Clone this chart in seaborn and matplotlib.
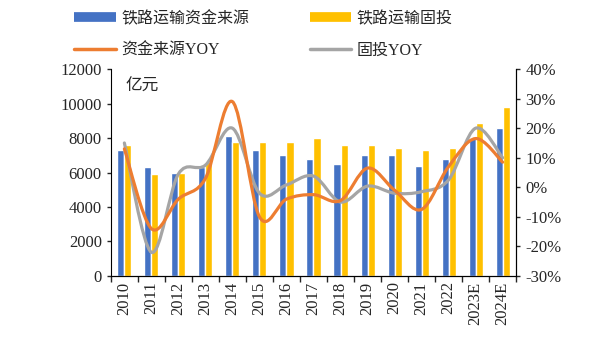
import numpy as np
import pandas as pd
import seaborn as sns
import matplotlib.pyplot as plt
from matplotlib.path import Path
from matplotlib.patches import PathPatch
from matplotlib.lines import Line2D
from matplotlib.ticker import PercentFormatter, MultipleLocator

years = ["2010", "2011", "2012", "2013", "2014", "2015", "2016", "2017",
         "2018", "2019", "2020", "2021", "2022", "2023E", "2024E"]
funding = [7300, 6300, 6000, 6300, 8100, 7300, 7000, 6800, 6500, 7000, 7000, 6400, 6800, 8000, 8600]
invest = [7600, 5900, 6000, 6600, 7800, 7800, 7800, 8000, 7600, 7600, 7400, 7300, 7400, 8900, 9800]
funding_yoy = [13, -14, -4, 3, 29, -10, -4, -2.5, -4.5, 6.5, -1, -7.5, 7, 16.5, 8.5]
invest_yoy = [15, -22, 4.5, 7.5, 20, -2, 0.8, 3.8, -5, 0.4, -2, -1.5, 2.5, 20, 10]

names = ["铁路运输资金来源", "铁路运输固投", "资金来源YOY", "固投YOY"]
colors = ["#4472C4", "#FFC000", "#ED7D31", "#A5A5A5"]

sns.set_style("ticks")
plt.rcParams["font.family"] = ["Liberation Serif", "Noto Sans CJK SC"]
plt.rcParams["axes.unicode_minus"] = False

df = pd.DataFrame({
    "year": years * 2,
    "value": funding + invest,
    "series": [names[0]] * len(years) + [names[1]] * len(years),
})

fig = plt.figure(figsize=(5.96, 3.51), dpi=100)
ax = fig.add_axes([0.186, 0.214, 0.680, 0.589])
sns.barplot(data=df, x="year", y="value", hue="series", palette=colors[:2],
            width=0.52, saturation=1, ax=ax, legend=False)
ax.set_xlim(-0.5, len(years) - 0.5)
ax.set_ylim(0, 12000)
ax.yaxis.set_major_locator(MultipleLocator(2000))
ax.set_xlabel("")
ax.set_ylabel("")
ax.tick_params(axis="x", which="major", length=0, labelsize=12, rotation=90, pad=4)
ax.set_xticks(np.arange(-0.5, len(years)), minor=True)
ax.tick_params(axis="x", which="minor", length=4, width=1)
ax.tick_params(axis="y", labelsize=12, length=3, width=1)
for s in ax.spines.values():
    s.set_color("black")
ax.spines["top"].set_visible(False)
ax.text(0.035, 0.955, "亿元", transform=ax.transAxes, fontsize=12, va="top", ha="left")


# smooth curve through points (Excel style), drawn as a bezier path
def smooth_path(ys):
    xs = np.arange(len(ys), dtype=float)
    pts = np.column_stack([xs, np.array(ys) / 100.0])
    ext = np.vstack([pts[0], pts, pts[-1]])
    verts = [pts[0]]
    codes = [Path.MOVETO]
    for i in range(len(pts) - 1):
        p0, p1, p2, p3 = ext[i], ext[i + 1], ext[i + 2], ext[i + 3]
        verts += [p1 + (p2 - p0) / 6, p2 - (p3 - p1) / 6, p2]
        codes += [Path.CURVE4] * 3
    return Path(verts, codes)


ax2 = ax.twinx()
sns.lineplot(x=np.arange(len(years)), y=np.array(invest_yoy) / 100, ax=ax2, alpha=0)
for ys, c in [(invest_yoy, colors[3]), (funding_yoy, colors[2])]:
    ax2.add_patch(PathPatch(smooth_path(ys), facecolor="none", edgecolor=c,
                            lw=2.3, capstyle="round", joinstyle="round"))
ax2.set_ylim(-0.30, 0.40)
ax2.yaxis.set_major_locator(MultipleLocator(0.1))
ax2.yaxis.set_major_formatter(PercentFormatter(1.0, decimals=0))
ax2.tick_params(axis="y", labelsize=12, length=3, width=1)
ax2.set_ylabel("")
for s in ax2.spines.values():
    s.set_color("black")
ax2.spines["top"].set_visible(False)
ax2.spines["left"].set_visible(False)
ax2.set_xlim(-0.5, len(years) - 0.5)

handles = [
    Line2D([], [], color=colors[0], lw=7, solid_capstyle="butt"),
    Line2D([], [], color=colors[2], lw=2.5),
    Line2D([], [], color=colors[1], lw=7, solid_capstyle="butt"),
    Line2D([], [], color=colors[3], lw=2.5),
]
labels = [names[0], names[2], names[1], names[3]]
fig.legend(handles, labels, ncol=2, loc="upper left", bbox_to_anchor=(0.1, 1.01),
           frameon=False, fontsize=11.5, handlelength=2.6, handletextpad=0.35,
           columnspacing=3.8, labelspacing=1.0)

fig.savefig("out.png", dpi=100)
